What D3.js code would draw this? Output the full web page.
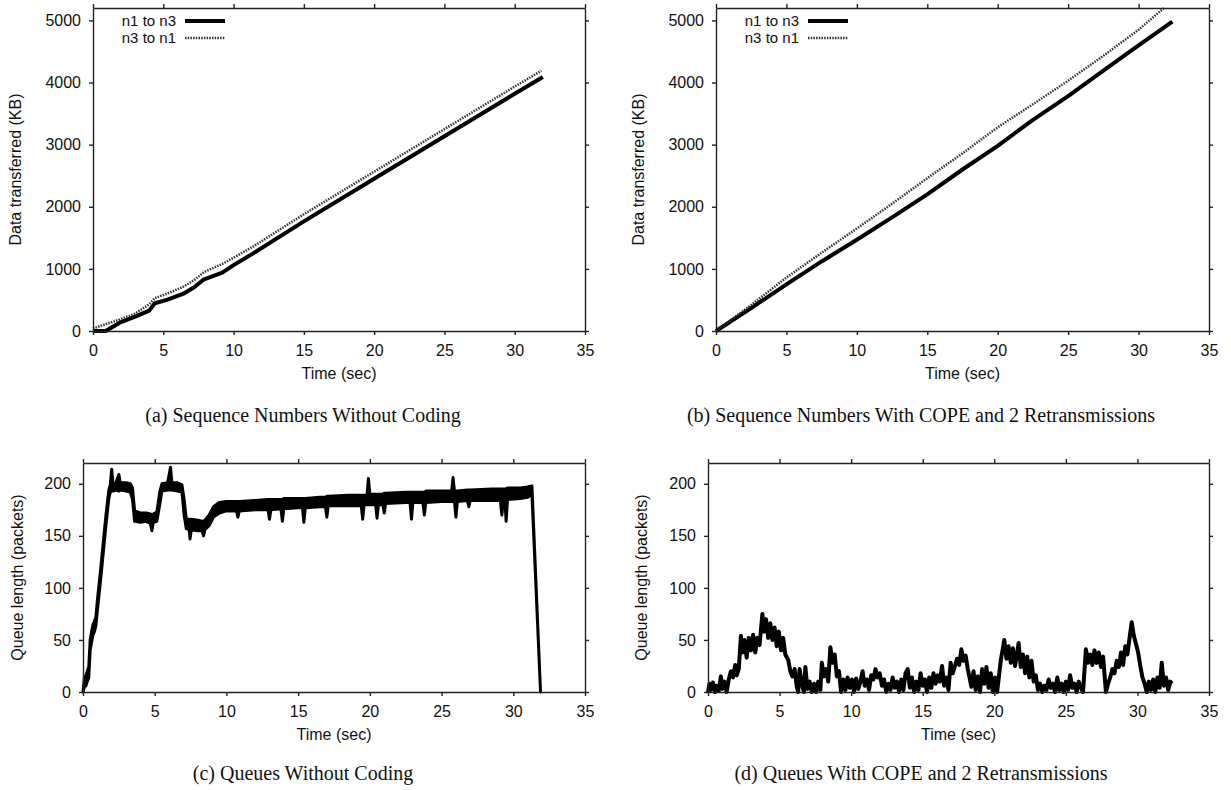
<!DOCTYPE html>
<html>
<head>
<meta charset="utf-8">
<script src="https://cdn.jsdelivr.net/npm/d3@7"></script>
<style>
  body { margin: 0; background: #fff; }
  svg { display: block; }
  .tick text, .lbl { font-family: "Liberation Sans", Arial, sans-serif; font-size: 16px; fill: #111; }
  .cap { font-family: "Liberation Serif", "Times New Roman", serif; font-size: 20px; fill: #111; }
</style>
</head>
<body>
<div id="fig"></div>
<script>
// axes / tick values
const timeTicks = [0, 5, 10, 15, 20, 25, 30, 35]
const kbTicks = [0, 1000, 2000, 3000, 4000, 5000]
const queueTicks = [0, 50, 100, 150, 200]
const legendKeys = ["n1 to n3", "n3 to n1"]

// (a) sequence numbers without coding
const aTime13 = [0, 0.9, 1.9, 3.0, 4.0, 4.4, 5.25, 6.4, 7.2, 7.9, 9.2, 10, 11.4, 15, 20, 25, 30, 32.0]
const aKb13   = [0, 0, 134, 231, 328, 446, 500, 597, 704, 833, 941, 1060, 1250, 1765, 2450, 3135, 3820, 4090]
const aTime31 = [0, 0.9, 1.9, 3.0, 4.0, 4.4, 5.25, 6.4, 7.2, 7.9, 9.2, 10, 11.4, 15, 20, 25, 30, 31.9]
const aKb31   = [40, 110, 185, 280, 430, 530, 600, 710, 820, 950, 1080, 1180, 1360, 1880, 2565, 3250, 3935, 4190]

// (b) sequence numbers with COPE
const bTime13 = [0, 2.5, 5, 7.5, 10, 12.5, 15, 17.5, 20, 22.5, 25, 27.5, 30, 32.4]
const bKb13   = [0, 370, 750, 1120, 1470, 1830, 2200, 2600, 2980, 3400, 3780, 4190, 4600, 4980]
const bTime31 = [0, 2.5, 5, 7.5, 10, 12.5, 15, 17.5, 20, 22.5, 25, 27.5, 30, 31.8]
const bKb31   = [0, 420, 860, 1260, 1650, 2050, 2460, 2860, 3280, 3650, 4030, 4430, 4850, 5200]

// (c) queue without coding : enveloppe min / max du signal bruité
const cTime = [0,0.1,0.2,0.3,0.4,0.5,0.6,0.7,0.8,0.9,1.0,1.2,1.4,1.6,1.8,1.9,2.0,2.1,2.3,2.5,2.6,3.0,3.3,3.45,3.6,4.0,4.4,4.7,4.8,4.9,5.15,5.35,5.5,5.9,6.1,6.2,6.6,6.9,7.05,7.2,7.4,7.46,7.55,8.0,8.3,8.4,8.5,8.8,9.1,9.5,10.0,10.5,10.7,10.8,10.9,12.0,12.9,13.0,13.1,13.8,13.9,14.0,15.0,15.3,15.4,15.5,16.5,16.9,17.0,17.1,18.5,19.4,19.5,19.6,19.8,19.9,20.0,20.4,20.5,20.6,20.9,21.0,21.1,22.5,22.8,22.9,23.0,23.7,23.8,23.9,25.0,25.7,25.8,25.9,26.0,26.1,26.8,26.9,27.0,28.5,29.1,29.2,29.3,29.42,29.5,29.6,30.5,31.0,31.3,31.9]
const cLow  = [0,5,6,10,14,40,48,55,58,64,78,104,132,160,186,192,193,193,194,193,194,193,192,185,164,163,164,162,155,163,164,180,193,194,194,194,193,192,170,157,156,147,156,155,155,150,156,160,168,172,174,174,174,168,174,175,175,166,175,176,164,176,177,177,163,177,178,178,168,179,179,179,166,180,180,180,180,180,167,180,180,172,181,182,182,166,182,182,170,182,183,183,183,183,168,183,184,178,184,184,184,170,184,184,164,185,186,187,190,0]
const cHigh = [0,14,16,20,24,50,58,65,68,72,88,114,142,170,194,199,214,200,201,209,201,201,200,196,174,172,172,171,170,171,173,192,200,201,216,201,201,199,185,166,166,165,166,165,164,164,165,170,178,182,183,183,183,183,183,184,185,185,185,185,185,186,186,186,186,186,187,187,188,188,189,189,189,189,189,205,190,190,190,190,190,191,191,192,192,192,192,192,192,193,193,193,206,193,193,193,194,194,194,195,195,195,195,195,195,196,196,197,198,0]

// (d) queue with COPE
const dTime = [0,0.1,0.2,0.35,0.5,0.6,0.75,0.9,1.0,1.15,1.3,1.45,1.6,1.75,1.9,2.0,2.15,2.3,2.4,2.55,2.7,2.85,3.0,3.15,3.3,3.45,3.6,3.8,3.9,4.05,4.2,4.35,4.5,4.65,4.8,4.95,5.1,5.25,5.4,5.6,5.75,5.9,6.05,6.2,6.3,6.4,6.55,6.7,6.8,6.95,7.1,7.25,7.4,7.55,7.7,7.85,7.95,8.1,8.25,8.4,8.55,8.7,8.85,9.0,9.15,9.3,9.45,9.6,9.75,9.9,10.05,10.2,10.35,10.5,10.65,10.8,10.95,11.1,11.25,11.4,11.55,11.7,11.85,12.0,12.15,12.3,12.45,12.6,12.75,12.9,13.05,13.2,13.35,13.5,13.65,13.8,13.95,14.1,14.25,14.4,14.55,14.7,14.85,15.0,15.15,15.3,15.45,15.6,15.75,15.9,16.05,16.2,16.35,16.5,16.65,16.8,16.95,17.1,17.25,17.4,17.55,17.7,17.85,18.0,18.15,18.3,18.4,18.55,18.7,18.85,19.0,19.15,19.3,19.45,19.6,19.75,19.9,20.05,20.2,20.45,20.7,20.85,21.0,21.15,21.3,21.45,21.6,21.7,21.85,22.0,22.15,22.3,22.45,22.6,22.75,22.9,23.05,23.2,23.35,23.5,23.65,23.8,23.95,24.1,24.25,24.4,24.55,24.7,24.85,25.0,25.15,25.3,25.45,25.6,25.75,25.9,26.05,26.2,26.4,26.55,26.7,26.85,27.0,27.15,27.3,27.45,27.6,27.8,27.95,28.1,28.25,28.4,28.55,28.7,28.85,29.0,29.15,29.3,29.45,29.6,29.75,29.9,30.05,30.2,30.35,30.5,30.65,30.8,30.95,31.1,31.25,31.4,31.55,31.7,31.85,32.0,32.15,32.3,32.4]
const dQueue = [0,8,2,9,0,6,1,15,3,10,0,12,20,14,26,16,22,54,38,50,33,52,40,55,38,52,45,75,58,70,52,66,50,62,44,58,40,52,36,31,20,15,22,5,0,22,8,0,24,3,10,0,8,0,10,2,28,15,22,10,43,28,36,15,20,0,12,2,14,4,12,0,13,3,10,20,6,12,2,16,12,22,14,18,6,12,0,8,2,14,4,10,0,12,2,18,22,4,14,0,10,2,18,6,12,0,14,4,18,8,16,10,25,6,14,2,28,18,25,32,26,41,30,35,22,12,5,20,2,15,0,22,8,24,4,18,0,14,0,30,50,32,44,28,42,25,38,47,24,36,18,34,14,30,10,16,2,8,0,6,2,12,4,8,0,14,2,8,0,10,2,16,4,8,0,10,4,0,41,28,36,26,40,28,38,24,34,0,8,14,22,18,30,24,38,26,44,36,52,67,54,46,38,25,14,8,0,10,2,12,0,14,4,28,6,14,2,10,8]

const W = 1231, H = 790
const svg = d3.select("#fig").append("svg")
  .attr("width", W).attr("height", H)

const zip = (xs, ys) => xs.map((t, i) => [t, ys[i]])

function panel(p) {
  const x = d3.scaleLinear().domain([0, 35]).range([p.left, p.right])
  const y = d3.scaleLinear().domain([0, p.ymax]).range([p.bottom, p.top])
  const g = svg.append("g")

  // bande bruitée (min / max)
  if (p.band) {
    const area = d3.area().x((d, i) => x(p.band.t[i]))
      .y0((d, i) => y(p.band.lo[i])).y1((d, i) => y(p.band.hi[i]))
    g.append("path")
      .datum(p.band.t)
      .attr("fill", "#000").attr("stroke", "#000")
      .attr("stroke-width", 3).attr("stroke-linejoin", "round")
      .attr("d", area)
  }

  // lignes de données
  const line = d3.line().x(d => x(d[0])).y(d => y(d[1]))
  p.series.forEach(s => {
    g.append("path")
      .datum(zip(s.t, s.v))
      .attr("fill", "none")
      .attr("stroke", s.color)
      .attr("stroke-width", s.width)
      .attr("stroke-dasharray", s.dash || null)
      .attr("stroke-linejoin", "round")
      .attr("d", line)
  })

  // axes (ticks vers l'extérieur, sur les quatre côtés)
  const ax = [
    g.append("g").attr("transform", `translate(0,${p.bottom})`)
      .call(d3.axisBottom(x).tickValues(timeTicks).tickSize(4).tickPadding(10).tickSizeOuter(0)),
    g.append("g").attr("transform", `translate(0,${p.top})`)
      .call(d3.axisTop(x).tickValues(timeTicks).tickSize(4).tickFormat("").tickSizeOuter(0)),
    g.append("g").attr("transform", `translate(${p.left},0)`)
      .call(d3.axisLeft(y).tickValues(p.yticks).tickFormat(d3.format("d"))
        .tickSize(4).tickPadding(8).tickSizeOuter(0)),
    g.append("g").attr("transform", `translate(${p.right},0)`)
      .call(d3.axisRight(y).tickValues(p.yticks).tickSize(4).tickFormat("").tickSizeOuter(0))
  ]
  ax.forEach(a => {
    a.attr("font-family", null).attr("font-size", null)
    a.select(".domain").attr("stroke", "#222").attr("stroke-width", 1.4)
    a.selectAll(".tick line").attr("stroke", "#222").attr("stroke-width", 1.4)
  })

  // titres
  g.append("text").attr("class", "lbl")
    .attr("x", (p.left + p.right) / 2).attr("y", p.bottom + 48)
    .attr("text-anchor", "middle").text("Time (sec)")
  g.append("text").attr("class", "lbl")
    .attr("transform", `translate(${p.ylabX},${(p.top + p.bottom) / 2}) rotate(-90)`)
    .attr("text-anchor", "middle").attr("dy", "0.35em").text(p.ylab)
  g.append("text").attr("class", "cap")
    .attr("x", p.capX).attr("y", p.capY)
    .attr("text-anchor", "middle").attr("dy", "0.35em").text(p.caption)

  // légende
  if (p.legend) {
    p.series.forEach((s, i) => {
      const ly = p.top + 13 + i * 17
      g.append("text").attr("class", "lbl").style("font-size", "15px")
        .attr("x", p.left + 83).attr("y", ly).attr("dy", "0.35em")
        .attr("text-anchor", "end").text(legendKeys[i])
      g.append("line")
        .attr("x1", p.left + 92).attr("x2", p.left + 132)
        .attr("y1", ly).attr("y2", ly)
        .attr("stroke", s.color).attr("stroke-width", s.width)
        .attr("stroke-dasharray", s.dash || null)
    })
  }
}

const solid = "#000", dotted = "#333"

panel({ left: 93, right: 585, top: 8, bottom: 331, ymax: 5200, yticks: kbTicks,
  ylab: "Data transferred (KB)", ylabX: 15, capX: 303, capY: 415, legend: true,
  caption: "(a) Sequence Numbers Without Coding",
  series: [
    { t: aTime13, v: aKb13, color: solid, width: 4 },
    { t: aTime31, v: aKb31, color: dotted, width: 2.5, dash: "1.5,1.2" }
  ] })

panel({ left: 716, right: 1209, top: 8, bottom: 331, ymax: 5200, yticks: kbTicks,
  ylab: "Data transferred (KB)", ylabX: 638, capX: 921, capY: 415, legend: true,
  caption: "(b) Sequence Numbers With COPE and 2 Retransmissions",
  series: [
    { t: bTime13, v: bKb13, color: solid, width: 4 },
    { t: bTime31, v: bKb31, color: dotted, width: 2.5, dash: "1.5,1.2" }
  ] })

panel({ left: 83, right: 585, top: 463, bottom: 692, ymax: 220, yticks: queueTicks,
  ylab: "Queue length (packets)", ylabX: 17, capX: 303, capY: 773,
  caption: "(c) Queues Without Coding",
  band: { t: cTime, lo: cLow, hi: cHigh },
  series: [] })

panel({ left: 708, right: 1209, top: 463, bottom: 692, ymax: 220, yticks: queueTicks,
  ylab: "Queue length (packets)", ylabX: 641, capX: 921, capY: 773,
  caption: "(d) Queues With COPE and 2 Retransmissions",
  series: [ { t: dTime, v: dQueue, color: solid, width: 4 } ] })
</script>
</body>
</html>
